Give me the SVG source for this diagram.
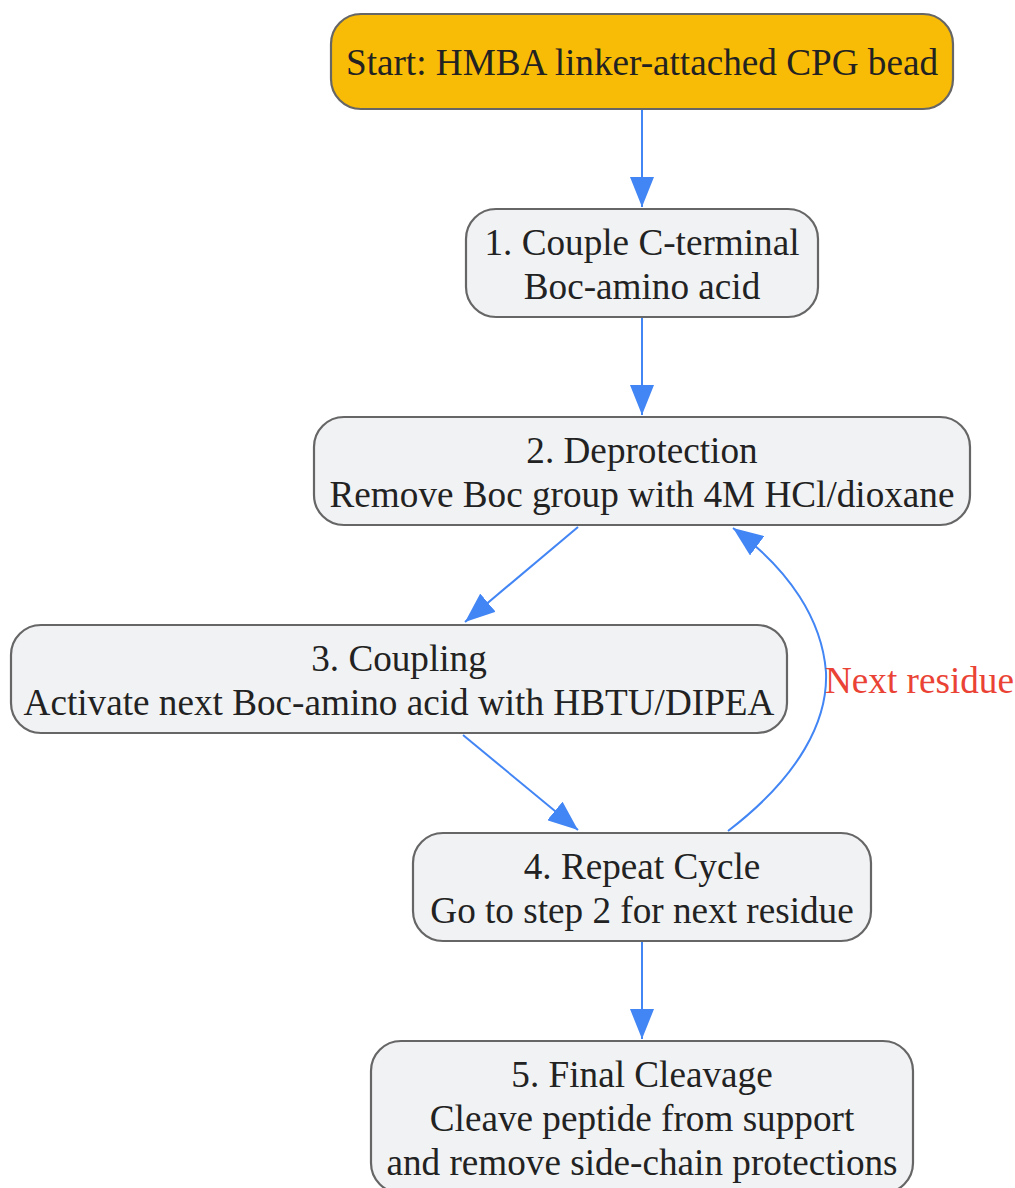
<svg xmlns="http://www.w3.org/2000/svg" width="1015" height="1188" viewBox="0 0 1015 1188">
<style>
.node rect{fill:#F1F2F4;stroke:#666666;stroke-width:2.2}
.start rect{fill:#F9BC06}
text{font-family:"Liberation Serif","Times New Roman",serif;font-size:37.2px;fill:#222222;text-anchor:middle}
.edge{fill:none;stroke:#4285F4;stroke-width:2}
.lbl{fill:#EA4335;text-anchor:start}
</style>
<defs>
<marker id="ah" markerWidth="30" markerHeight="24" viewBox="0 0 30 24" refX="30" refY="12" markerUnits="userSpaceOnUse" orient="auto">
<path d="M0,0 L30,12 L0,24 Z" fill="#4285F4"/>
</marker>
</defs>
<rect width="1015" height="1188" fill="#FFFFFF"/>
<g id="connectors">
<path class="edge" d="M642,109 L642,207" marker-end="url(#ah)"/>
<path class="edge" d="M642,317 L642,415" marker-end="url(#ah)"/>
<path class="edge" d="M578,527 L465,622" marker-end="url(#ah)"/>
<path class="edge" d="M463,735 L578,830" marker-end="url(#ah)"/>
<path class="edge" d="M728,831 C800,776 828,720 826,672 C822,620 790,570 733,528" marker-end="url(#ah)"/>
<path class="edge" d="M642,941 L642,1039" marker-end="url(#ah)"/>
<text class="lbl" x="825" y="693">Next residue</text>
</g>
<g id="start" class="node start">
<rect x="331" y="14" width="622" height="95" rx="30"/>
<text x="642" y="75">Start: HMBA linker-attached CPG bead</text>
</g>
<g id="step1" class="node">
<rect x="466" y="209" width="352" height="108" rx="30"/>
<text x="642" y="255">1. Couple C-terminal</text>
<text x="642" y="299">Boc-amino acid</text>
</g>
<g id="step2" class="node">
<rect x="314" y="417" width="656" height="108" rx="30"/>
<text x="642" y="463">2. Deprotection</text>
<text x="642" y="507">Remove Boc group with 4M HCl/dioxane</text>
</g>
<g id="step3" class="node">
<rect x="11" y="625" width="776" height="108" rx="30"/>
<text x="399" y="671">3. Coupling</text>
<text x="399" y="715">Activate next Boc-amino acid with HBTU/DIPEA</text>
</g>
<g id="step4" class="node">
<rect x="413" y="833" width="458" height="108" rx="30"/>
<text x="642" y="879">4. Repeat Cycle</text>
<text x="642" y="923">Go to step 2 for next residue</text>
</g>
<g id="step5" class="node">
<rect x="371" y="1041" width="542" height="152" rx="30"/>
<text x="642" y="1087">5. Final Cleavage</text>
<text x="642" y="1131">Cleave peptide from support</text>
<text x="642" y="1175">and remove side-chain protections</text>
</g>
</svg>
